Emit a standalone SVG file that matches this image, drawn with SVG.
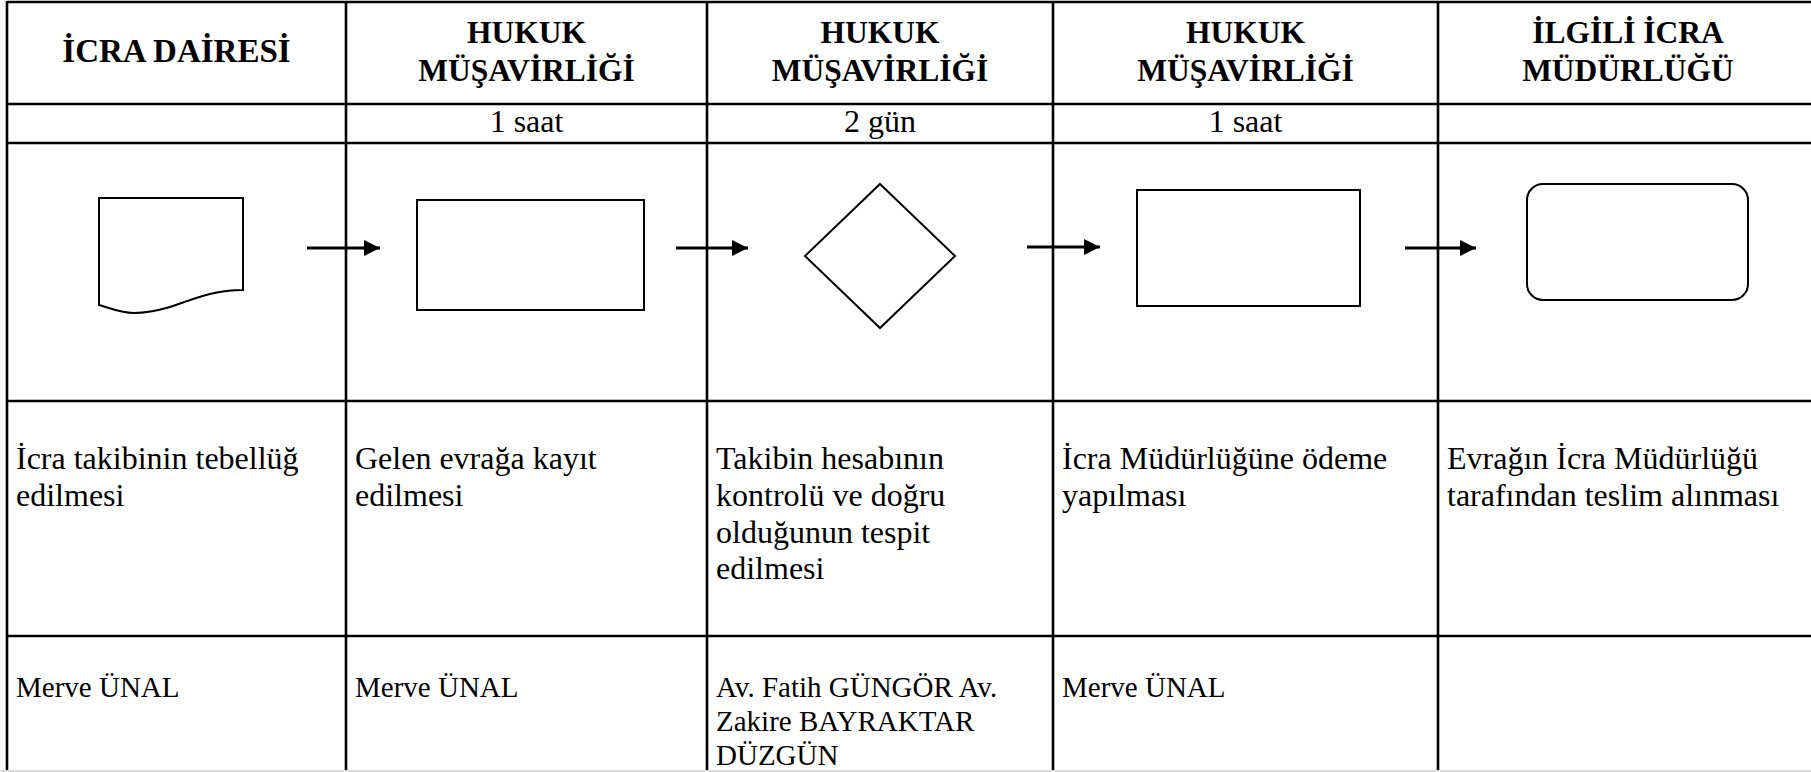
<svg xmlns="http://www.w3.org/2000/svg" width="1811" height="772" viewBox="0 0 1811 772">
  <style>
    text { font-family: "Liberation Serif", serif; fill: #000; }
    .grid { stroke: #000; stroke-width: 2.6; fill: none; }
    .shape { stroke: #000; stroke-width: 2; fill: #fff; }
    .flow { stroke: #000; stroke-width: 2.8; fill: none; }
    .hdr { font-weight: bold; font-size: 31.5px; text-anchor: middle; }
    .hdr-lg { font-size: 33px; }
    .time { font-weight: normal; font-size: 32px; text-anchor: middle; }
    .desc { font-weight: normal; font-size: 32px; }
    .who { font-weight: normal; font-size: 29px; }
  </style>
  <defs>
    <marker id="arrowhead" markerUnits="userSpaceOnUse" markerWidth="18" markerHeight="18" refX="16" refY="8" orient="auto">
      <path d="M0,0 L16,8 L0,16 Z" fill="#000"/>
    </marker>
  </defs>

  <rect width="1811" height="772" fill="#fff"/>

  <!-- table grid -->
  <g id="grid" class="grid">
    <line x1="7" y1="2" x2="1811" y2="2"/>
    <line x1="7" y1="104" x2="1811" y2="104"/>
    <line x1="7" y1="143" x2="1811" y2="143"/>
    <line x1="7" y1="401" x2="1811" y2="401"/>
    <line x1="7" y1="636" x2="1811" y2="636"/>
    <line x1="7" y1="1" x2="7" y2="772"/>
    <line x1="346" y1="1" x2="346" y2="772"/>
    <line x1="707" y1="1" x2="707" y2="772"/>
    <line x1="1053" y1="1" x2="1053" y2="772"/>
    <line x1="1438" y1="1" x2="1438" y2="772"/>
  </g>
  <line x1="0" y1="771" x2="1811" y2="771" stroke="#dcdcdc" stroke-width="2"/>

  <!-- column headers -->
  <g id="headers">
    <text class="hdr hdr-lg" x="176.5" y="62">İCRA DAİRESİ</text>
    <text class="hdr" x="526.5" y="43">HUKUK</text>
    <text class="hdr" x="526.5" y="81">MÜŞAVİRLİĞİ</text>
    <text class="hdr" x="880" y="43">HUKUK</text>
    <text class="hdr" x="880" y="81">MÜŞAVİRLİĞİ</text>
    <text class="hdr" x="1245.5" y="43">HUKUK</text>
    <text class="hdr" x="1245.5" y="81">MÜŞAVİRLİĞİ</text>
    <text class="hdr" x="1628" y="43">İLGİLİ İCRA</text>
    <text class="hdr" x="1628" y="81">MÜDÜRLÜĞÜ</text>
  </g>

  <!-- durations -->
  <g id="durations">
    <text class="time" x="526.5" y="132">1 saat</text>
    <text class="time" x="880" y="132">2 gün</text>
    <text class="time" x="1245.5" y="132">1 saat</text>
  </g>

  <!-- flow symbols -->
  <g id="node-document">
    <path class="shape" d="M99,198 H243 V290 C214,290 196,298 170,307 C156,311 146,313 134,313 C122,313 112,309 99,305 Z"/>
  </g>
  <g id="node-register">
    <rect class="shape" x="417" y="200" width="227" height="110"/>
  </g>
  <g id="node-check">
    <polygon class="shape" points="880,184 955,256 880,328 805,256"/>
  </g>
  <g id="node-payment">
    <rect class="shape" x="1137" y="190" width="223" height="116"/>
  </g>
  <g id="node-receipt">
    <rect class="shape" x="1527" y="184" width="221" height="116" rx="16" ry="16"/>
  </g>

  <!-- connectors -->
  <g id="connectors" class="flow">
    <line x1="307" y1="248" x2="380" y2="248" marker-end="url(#arrowhead)"/>
    <line x1="676" y1="248" x2="748" y2="248" marker-end="url(#arrowhead)"/>
    <line x1="1027" y1="247" x2="1100" y2="247" marker-end="url(#arrowhead)"/>
    <line x1="1405" y1="248" x2="1476" y2="248" marker-end="url(#arrowhead)"/>
  </g>

  <!-- step descriptions -->
  <g id="descriptions">
    <text class="desc" x="16" y="469">İcra takibinin tebellüğ</text>
    <text class="desc" x="16" y="506">edilmesi</text>
    <text class="desc" x="355" y="469">Gelen evrağa kayıt</text>
    <text class="desc" x="355" y="506">edilmesi</text>
    <text class="desc" x="716" y="469">Takibin hesabının</text>
    <text class="desc" x="716" y="506">kontrolü ve doğru</text>
    <text class="desc" x="716" y="543">olduğunun tespit</text>
    <text class="desc" x="716" y="579">edilmesi</text>
    <text class="desc" x="1062" y="469">İcra Müdürlüğüne ödeme</text>
    <text class="desc" x="1062" y="506">yapılması</text>
    <text class="desc" x="1447" y="469">Evrağın İcra Müdürlüğü</text>
    <text class="desc" x="1447" y="506">tarafından teslim alınması</text>
  </g>

  <!-- responsible persons -->
  <g id="responsible">
    <text class="who" x="16" y="697">Merve ÜNAL</text>
    <text class="who" x="355" y="697">Merve ÜNAL</text>
    <text class="who" x="716" y="697">Av. Fatih GÜNGÖR Av.</text>
    <text class="who" x="716" y="731">Zakire BAYRAKTAR</text>
    <text class="who" x="716" y="765">DÜZGÜN</text>
    <text class="who" x="1062" y="697">Merve ÜNAL</text>
  </g>
</svg>
